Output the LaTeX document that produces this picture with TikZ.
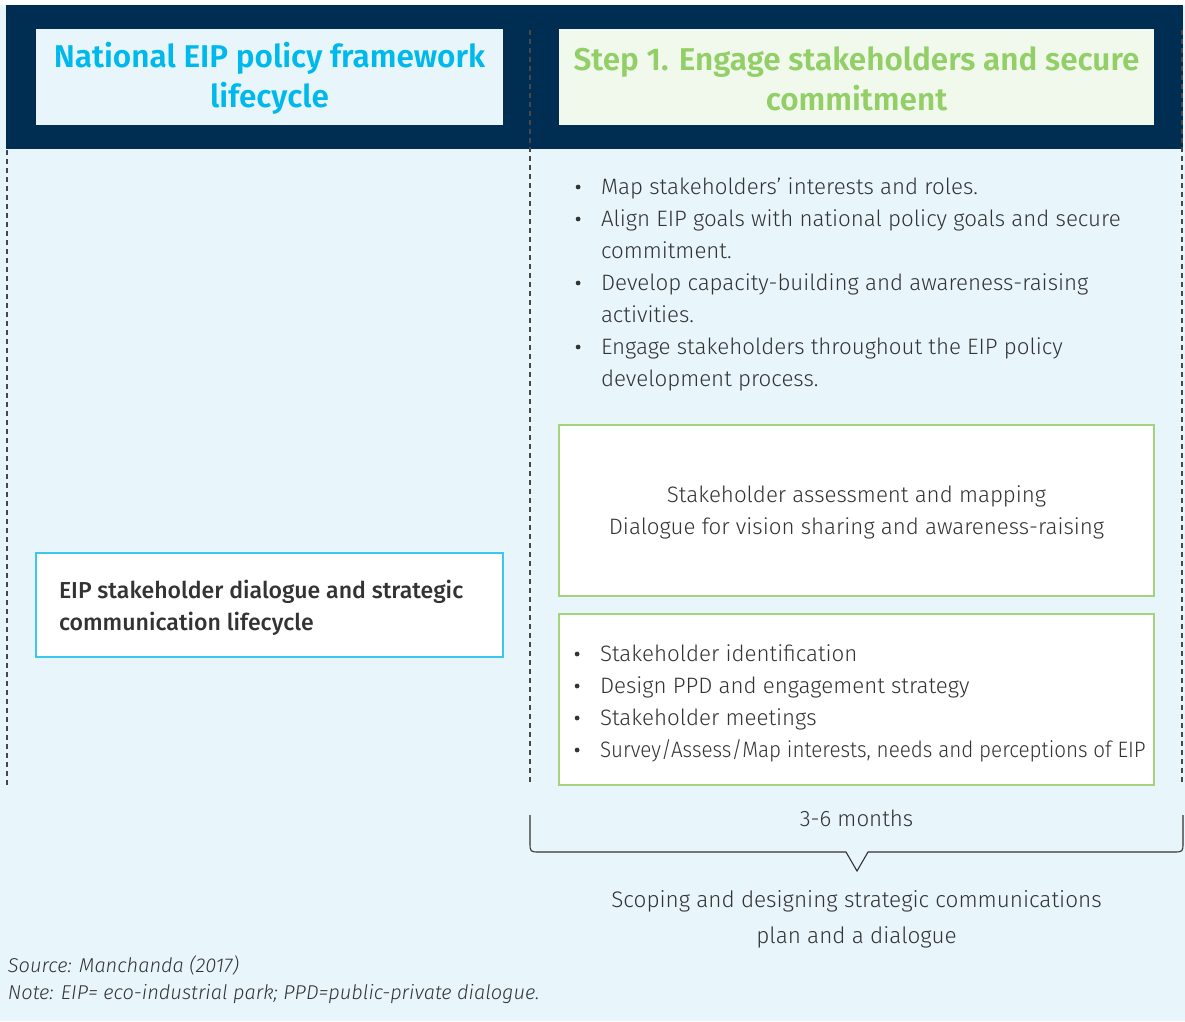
\documentclass[tikz,border=0pt]{standalone}
\usepackage{fontspec}
\setmainfont{Fira Sans}[UprightFont=* Light, ItalicFont=* Light Italic, BoldFont=* SemiBold, BoldItalicFont=* SemiBold Italic]
\newfontfamily\medfont{Fira Sans Medium}
\definecolor{bgblue}{HTML}{E8F5FB}
\definecolor{navy}{HTML}{002D52}
\definecolor{titlecyan}{HTML}{00B9EC}
\definecolor{titlegreen}{HTML}{92CF67}
\definecolor{hdrgreen}{HTML}{F1F8EC}
\definecolor{boxgreen}{HTML}{A3D47C}
\definecolor{boxcyan}{HTML}{3CC7EE}
\definecolor{txt}{HTML}{333333}
\newcommand\bul{\makebox[26pt][l]{\hspace{0.7pt}\tikz[x=1cm,y=1cm,baseline={(0,-7.5pt)}]\fill[txt] (0,0) circle (2.4pt);}}
\begin{document}
\begin{tikzpicture}[x=1pt,y=-1pt,
  every node/.style={inner sep=0pt, outer sep=0pt, text=txt},
  hdrbox/.style={rectangle, minimum width=#1, minimum height=96pt},
  titletxt/.style={font=\fontsize{31.5}{40}\selectfont\bfseries, align=center},
  bodytxt/.style={font=\fontsize{22.3}{32}\selectfont},
  greenbox/.style={draw=boxgreen, line width=1.2pt, fill=white, minimum width=595pt, minimum height=171pt},
  vdash/.style={draw=txt!90, line width=1.1pt, dash pattern=on 5pt off 4pt},
]
\fill[bgblue] (0,0) rectangle (1185,1021);
\useasboundingbox (0,0) rectangle (1185,1021);
\fill[white] (0,0) rectangle (1185,5);
\fill[navy] (6,5) rectangle (1183,149);

% dashed guides
\coordinate (dlt) at (7,150);
\coordinate (dlb) at (7,785);
\coordinate (dmt) at (530,30);
\coordinate (dmb) at (530,785);
\coordinate (drt) at (1182,30);
\coordinate (drb) at (1182,785);
\draw[vdash] (dlt) -- (dlb);
\draw[vdash] (dmt) -- (dmb);
\draw[vdash] (drt) -- (drb);

% headers
\node[hdrbox=467pt, fill=bgblue] (hl) at (269.5,77) {};
\node[titletxt, text=titlecyan] (hlt) at (269.5,78.5) {National EIP policy framework\\lifecycle};
\node[hdrbox=595pt, fill=hdrgreen] (hr) at (856.5,77) {};
\node[titletxt, text=titlegreen] (hrt) at (856.5,78.5) {Step 1. Engage stakeholders and secure\\commitment};

% top bullet list
\node[bodytxt, anchor=base west] (list1) at (575,194.5) {%
\begin{tabular}[t]{@{}l@{}l@{}}
\bul & Map stakeholders’ interests and roles.\\
\bul & Align EIP goals with national policy goals and secure\\
 & commitment.\\
\bul & Develop capacity-building and awareness-raising\\
 & activities.\\
\bul & Engage stakeholders throughout the EIP policy\\
 & development process.
\end{tabular}};

% green box 1
\node[greenbox] (g1) at (856.5,510.5) {};
\node[bodytxt, anchor=base] (g1t) at (856.5,502.5) {%
\begin{tabular}[t]{@{}c@{}}
Stakeholder assessment and mapping\\
Dialogue for vision sharing and awareness-raising
\end{tabular}};

% green box 2
\node[greenbox] (g2) at (856.5,699.5) {};
\node[bodytxt, anchor=base west] (g2t) at (574,661.5) {%
\begin{tabular}[t]{@{}l@{}l@{}}
\bul & Stakeholder identification\\
\bul & Design PPD and engagement strategy\\
\bul & Stakeholder meetings\\
\bul & \scalebox{0.925}[1]{Survey/Assess/Map interests, needs and perceptions of EIP}
\end{tabular}};

% left box
\node[draw=boxcyan, line width=1.2pt, fill=white, minimum width=467pt, minimum height=104pt] (lb) at (269.5,605) {};
\node[font=\fontsize{23.1}{32}\selectfont\medfont, anchor=base west] (lbt) at (59,598.5) {%
\begin{tabular}[t]{@{}l@{}}
EIP stakeholder dialogue and strategic\\
communication lifecycle
\end{tabular}};

% brace
\coordinate (bl) at (530,815);
\coordinate (br) at (1183,815);
\coordinate (tip) at (857,871);
\draw[txt, line width=1.1pt, line join=miter]
  (bl) -- (530,842) .. controls (530,852) .. (540,852) -- (846,852) -- (tip)
  -- (868,852) -- (1173,852) .. controls (1183,852) .. (1183,842) -- (br);
\node[bodytxt, anchor=base] (months) at (856.5,826.5) {3-6 months};

\node[font=\fontsize{22.5}{36}\selectfont, anchor=base] (scope) at (856.5,907.5) {%
\begin{tabular}[t]{@{}c@{}}
Scoping and designing strategic communications\\
plan and a dialogue
\end{tabular}};

% notes
\node[font=\fontsize{20}{27}\selectfont\itshape, anchor=base west] (notes) at (8,972) {%
\begin{tabular}[t]{@{}l@{}}
Source: Manchanda (2017)\\
Note: EIP= eco-industrial park; PPD=public-private dialogue.
\end{tabular}};
\end{tikzpicture}
\end{document}
